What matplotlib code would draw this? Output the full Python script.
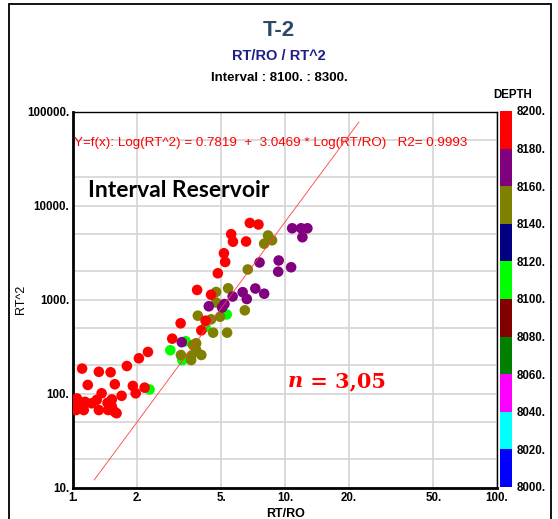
import matplotlib
matplotlib.use("Agg")
import matplotlib.pyplot as plt
import numpy as np
from matplotlib.colors import ListedColormap, BoundaryNorm
from matplotlib.patches import Rectangle

# RT/RO vs RT^2 points, grouped by depth band
red_x = [1.10, 1.32, 1.50, 1.79, 2.04, 2.25, 1.17, 1.57, 1.91, 1.97, 2.17, 1.36, 1.69, 1.52,
         1.29, 1.04, 1.135, 1.22, 1.04, 1.12, 1.32, 1.52, 1.57, 1.60, 1.03, 1.02, 1.46, 1.45,
         2.93, 3.21, 4.02, 4.21, 3.84, 4.47, 4.81, 5.14, 5.21, 5.56, 5.67, 6.54, 6.81, 7.48]
red_y = [185, 171, 169, 197, 238, 278, 124, 126, 121, 101, 116, 101, 95, 87,
         86, 89, 82, 79, 76, 67, 67, 73, 64, 62, 67, 72, 67, 80,
         385, 561, 472, 598, 1270, 1130, 1910, 3120, 2520, 4980, 4140, 4160, 6550, 6310]
olive_x = [3.22, 3.60, 4.02, 3.80, 3.60, 3.67, 3.80, 4.57, 5.32, 3.87, 4.47, 4.93, 6.45,
           4.72, 5.38, 4.72, 6.66, 7.96, 8.30, 8.67]
olive_y = [258, 252, 258, 344, 228, 330, 292, 446, 446, 676, 618, 659, 771,
           1208, 1322, 934, 2096, 3943, 4820, 4285]
purple_x = [3.25, 4.36, 5.04, 5.17, 5.65, 6.30, 6.59, 7.23, 7.96, 7.57, 9.32, 9.27, 10.67,
            10.79, 11.89, 12.73, 12.06]
purple_y = [353, 851, 826, 900, 1081, 1202, 1017, 1315, 1158, 2489, 2612, 1986, 2213,
            5750, 5750, 5750, 4620]
green_x = [2.29, 2.87, 3.39, 4.21, 5.30, 3.27]
green_y = [111, 290, 362, 512, 696, 228]
band_depth = {"green": 8110, "olive": 8150, "purple": 8170, "red": 8190}

# regression Log(RT^2) = a + b * Log(RT/RO)
fit_a = 0.7819
fit_b = 3.0469
fit_range = [1.255, 22.3]

depth_edges = list(range(8000, 8201, 20))
depth_colors = ['#0000ff', '#00ffff', '#ff00ff', '#008000', '#800000',
                '#00ff00', '#000080', '#808000', '#800080', '#ff0000']
x_ticks = [1, 2, 5, 10, 20, 50, 100]
y_ticks = [10, 100, 1000, 10000, 100000]

narrow = ['Liberation Sans Narrow', 'Liberation Sans', 'DejaVu Sans']

fig = plt.figure(figsize=(5.58, 5.19), dpi=100)
ax = fig.add_axes([0.1314, 0.0603, 0.7593, 0.7245])
cax = fig.add_axes([0.896, 0.0617, 0.0215, 0.7245])

cmap = ListedColormap(depth_colors)
norm = BoundaryNorm(depth_edges, cmap.N)

xs = green_x + olive_x + purple_x + red_x
ys = green_y + olive_y + purple_y + red_y
ds = ([band_depth["green"]] * len(green_x) + [band_depth["olive"]] * len(olive_x)
      + [band_depth["purple"]] * len(purple_x) + [band_depth["red"]] * len(red_x))
sc = ax.scatter(xs, ys, c=ds, cmap=cmap, norm=norm, s=58, linewidths=0, zorder=3)

fx = np.array(fit_range)
ax.plot(fx, 10 ** (fit_a + fit_b * np.log10(fx)), color='#ff4040', lw=0.6, zorder=4)

ax.set_xscale('log')
ax.set_yscale('log')
ax.set_xlim(1, 100)
ax.set_ylim(10, 100000)
ax.set_xticks(x_ticks)
ax.set_xticklabels([f"{t}." for t in x_ticks])
ax.set_yticks(y_ticks)
ax.set_yticklabels([f"{t}." for t in y_ticks])
ax.xaxis.set_minor_locator(matplotlib.ticker.LogLocator(base=10, subs=(2, 5)))
ax.yaxis.set_minor_locator(matplotlib.ticker.LogLocator(base=10, subs=(2, 5)))
ax.xaxis.set_minor_formatter(matplotlib.ticker.NullFormatter())
ax.yaxis.set_minor_formatter(matplotlib.ticker.NullFormatter())
ax.grid(True, which='both', color='#d4d4d4', lw=1.2, zorder=0)
ax.set_axisbelow(True)
ax.tick_params(which='both', length=0, pad=3)
for lab in ax.get_xticklabels() + ax.get_yticklabels():
    lab.set_family(narrow)
    lab.set_fontweight('bold')
    lab.set_fontsize(8.3)
for s in ['left', 'bottom']:
    ax.spines[s].set_linewidth(2)
for s in ['top', 'right']:
    ax.spines[s].set_linewidth(1)

ax.set_ylabel('RT^2', family=narrow, fontsize=9)
ax.yaxis.set_label_coords(-0.109, 0.5)
ax.set_xlabel('RT/RO', family=narrow, fontsize=9, fontweight='bold')
ax.xaxis.set_label_coords(0.5, -0.053)

ax.text(0.002, 0.910, 'Y=f(x): Log(RT^2) = 0.7819  +  3.0469 * Log(RT/RO)   R2= 0.9993',
        transform=ax.transAxes, color='#ff0000', family=narrow, fontsize=9.6,
        ha='left', va='baseline')
ax.text(0.035, 0.772, 'Interval Reservoir', transform=ax.transAxes, family='Lato',
        fontsize=16.5, fontweight='bold', color='black', ha='left', va='baseline')
t_n = ax.text(0.507, 0.284, 'n', transform=ax.transAxes, color='#ff0000',
              family='DejaVu Serif', fontsize=15, fontweight='bold', style='italic',
              ha='left', va='center')
ax.annotate(' = 3,05', xy=(1, 0), xycoords=t_n, color='#ff0000',
            family='DejaVu Serif', fontsize=15, fontweight='bold',
            ha='left', va='bottom')

cb = fig.colorbar(sc, cax=cax, boundaries=depth_edges, ticks=depth_edges)
cb.outline.set_visible(False)
cb.set_ticklabels([f"{d}." for d in depth_edges])
cax.tick_params(length=0, pad=3)
for lab in cax.get_yticklabels():
    lab.set_family(narrow)
    lab.set_fontweight('bold')
    lab.set_fontsize(8.3)

fig.text(0.5, 0.942, 'T-2', ha='center', va='center', fontsize=16, fontweight='bold',
         color='#2f4866', family='Liberation Sans')
fig.text(0.5, 0.892, 'RT/RO / RT^2', ha='center', va='center', fontsize=10.5,
         fontweight='bold', color='#1c1c8a', family=narrow)
fig.text(0.5, 0.850, 'Interval : 8100. : 8300.', ha='center', va='center', fontsize=9.5,
         fontweight='bold', color='black', family=narrow)
fig.text(0.919, 0.817, 'DEPTH', ha='center', va='center', fontsize=8.3,
         fontweight='bold', color='black', family=narrow)

fig.patches.append(Rectangle((9 / 558, -0.05), 542 / 558, 1.05 - 4 / 519, fill=False,
                             edgecolor='black', lw=1.3, transform=fig.transFigure,
                             figure=fig))

fig.savefig('out.png', dpi=100)
